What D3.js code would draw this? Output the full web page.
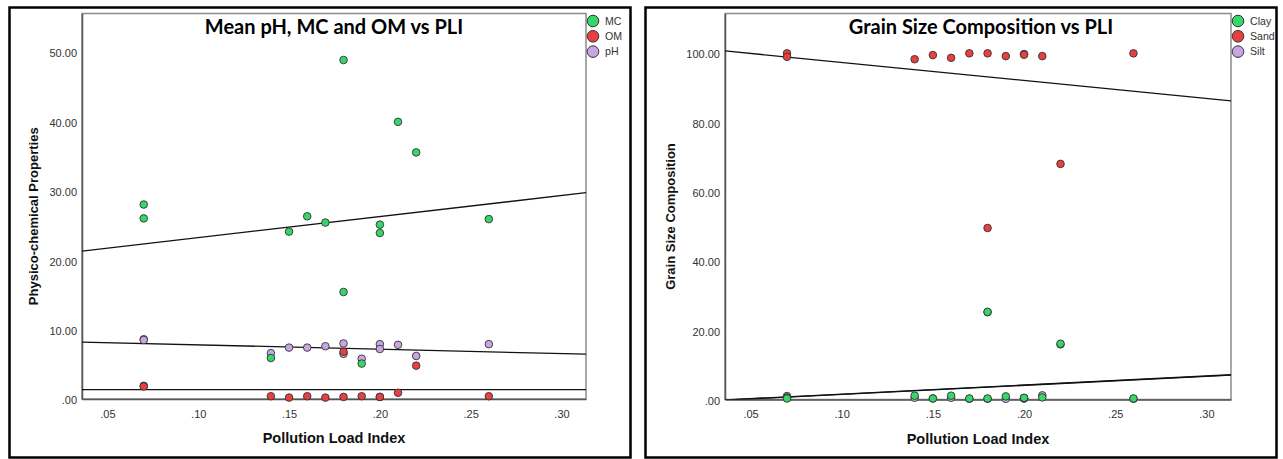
<!DOCTYPE html>
<html><head><meta charset="utf-8">
<script src="https://cdn.jsdelivr.net/npm/d3@7"></script>
<style>body{margin:0;background:#fff;} svg{display:block;}</style>
</head><body>
<svg id="c" width="1283" height="459"></svg>
<script>
// ---------- DATA ----------
const xTicks = [0.05, 0.10, 0.15, 0.20, 0.25, 0.30];
const xTickLabels = [".05", ".10", ".15", ".20", ".25", ".30"];
const leftYTicks = [0, 10, 20, 30, 40, 50];
const leftYTickLabels = [".00", "10.00", "20.00", "30.00", "40.00", "50.00"];
const rightYTicks = [0, 20, 40, 60, 80, 100];
const rightYTickLabels = [".00", "20.00", "40.00", "60.00", "80.00", "100.00"];

// PLI for each sample
const pli = [0.07, 0.07, 0.14, 0.15, 0.16, 0.17, 0.18, 0.18, 0.19, 0.20, 0.20, 0.21, 0.22, 0.26];
// Left chart series
const mcValues = [28.0, 26.0, 5.9, 24.1, 26.3, 25.4, 48.8, 15.4, 5.1, 25.1, 23.9, 39.9, 35.5, 25.9];
const omValues = [1.9, 1.8, 0.4, 0.2, 0.4, 0.2, 6.8, 0.3, 0.4, 0.3, 0.3, 0.9, 4.8, 0.4];
const phValues = [8.6, 8.5, 6.6, 7.4, 7.4, 7.6, 8.0, 6.5, 5.8, 7.9, 7.2, 7.8, 6.2, 7.9];
// Right chart series
const clayValues = [0.5, 0.3, 1.1, 0.3, 1.1, 0.3, 0.3, 25.3, 0.9, 0.4, 0.5, 0.6, 16.1, 0.3];
const sandValues = [99.9, 98.9, 98.2, 99.4, 98.6, 99.9, 99.9, 49.5, 99.1, 99.7, 99.5, 99.1, 68.0, 99.9];
const siltValues = [1.0, 0.6, 0.5, 0.3, 0.5, 0.2, 0.2, 25.2, 0.2, 0.3, 0.3, 1.2, 15.9, 0.2];

// Fit lines (value at x = 0.036 and x = 0.3135)
const fitX = [0.036, 0.3135];
const mcFit = [21.3, 29.7];
const phFit = [8.2, 6.45];
const omFit = [1.35, 1.35];
const sandFit = [100.6, 86.2];
const clayFit = [-0.13, 7.15];
const siltFit = [-0.2, 7.05];

const leftLegend = ["MC", "OM", "pH"];
const rightLegend = ["Clay", "Sand", "Silt"];
const colors = ["#35d66a", "#e8403f", "#c7a6e2"];

// ---------- DRAW ----------
const svg = d3.select("#c");

function panel(cfg) {
  const g = svg.append("g");
  // outer frame
  g.append("rect").attr("x", cfg.frame[0]).attr("y", cfg.frame[1])
    .attr("width", cfg.frame[2]).attr("height", cfg.frame[3])
    .attr("fill", "#fff").attr("stroke", "#000").attr("stroke-width", 2.5);

  const x = d3.scaleLinear().domain([0.036, 0.3135]).range([cfg.left, cfg.right]);
  const y = d3.scaleLinear().domain(cfg.yDomain).range([cfg.bottom, cfg.top]);

  // plot area border
  g.append("rect").attr("x", cfg.left).attr("y", cfg.top)
    .attr("width", cfg.right - cfg.left).attr("height", cfg.bottom - cfg.top)
    .attr("fill", "#fff").attr("stroke", "#8c8c8c").attr("stroke-width", 1.5);

  const clipId = "clip" + cfg.id;
  g.append("clipPath").attr("id", clipId).append("rect")
    .attr("x", cfg.left).attr("y", cfg.top)
    .attr("width", cfg.right - cfg.left).attr("height", cfg.bottom - cfg.top);

  // axes
  const xAxis = d3.axisBottom(x).tickValues(xTicks).tickSize(0).tickPadding(11)
    .tickFormat((d, i) => xTickLabels[i]);
  const gx = g.append("g").attr("transform", `translate(0,${cfg.bottom})`).call(xAxis);
  gx.select(".domain").attr("stroke", "#555").attr("stroke-width", 1.5);
  gx.selectAll("text").attr("font-family", "Liberation Sans, Arial, sans-serif")
    .attr("font-size", 11).attr("fill", "#333");

  const yAxis = d3.axisLeft(y).tickValues(cfg.yTicks).tickSize(0).tickPadding(5)
    .tickFormat((d, i) => cfg.yTickLabels[i]);
  const gy = g.append("g").attr("transform", `translate(${cfg.left},0)`).call(yAxis);
  gy.select(".domain").attr("stroke", "#555").attr("stroke-width", 1.5);
  gy.selectAll("text").attr("font-family", "Liberation Sans, Arial, sans-serif")
    .attr("font-size", 11).attr("fill", "#333").attr("dy", "0.45em");

  // fit lines
  const line = d3.line().x(d => x(d[0])).y(d => y(d[1]));
  const lg = g.append("g").attr("clip-path", `url(#${clipId})`);
  cfg.fits.forEach(f => {
    lg.append("path").attr("d", line(fitX.map((xv, i) => [xv, f[i]])))
      .attr("fill", "none").attr("stroke", "#111").attr("stroke-width", 1.3);
  });

  // points (drawn in given order; colour index carried along)
  const pg = g.append("g");
  cfg.drawOrder.forEach(si => {
    pg.selectAll(null).data(cfg.series[si]).enter().append("circle")
      .attr("cx", (d, i) => x(pli[i])).attr("cy", d => y(d))
      .attr("r", 3.8).attr("fill", colors[si])
      .attr("stroke", "#333").attr("stroke-width", 0.9);
  });

  // title
  g.append("text").attr("x", (cfg.left + cfg.right) / 2 + cfg.titleDx).attr("y", cfg.top + 20)
    .attr("text-anchor", "middle").attr("font-family", "Lato, 'Open Sans', sans-serif")
    .attr("font-weight", "bold").attr("font-size", 20).attr("fill", "#000")
    .text(cfg.title);

  // axis titles
  g.append("text").attr("x", (cfg.left + cfg.right) / 2).attr("y", cfg.bottom + 44)
    .attr("text-anchor", "middle").attr("font-family", "Liberation Sans, Arial, sans-serif")
    .attr("font-weight", "bold").attr("font-size", 14.5).attr("fill", "#111")
    .text("Pollution Load Index");
  g.append("text")
    .attr("transform", `translate(${cfg.yTitleX},${(cfg.top + cfg.bottom) / 2 + 10}) rotate(-90)`)
    .attr("text-anchor", "middle").attr("font-family", "Liberation Sans, Arial, sans-serif")
    .attr("font-weight", "bold").attr("font-size", 13).attr("fill", "#111")
    .text(cfg.yTitle);

  // legend
  const leg = g.append("g").attr("transform", `translate(${cfg.right + 7},${cfg.top + 7.5})`);
  cfg.legend.forEach((name, i) => {
    leg.append("circle").attr("cx", 0).attr("cy", i * 15.3).attr("r", 5.8)
      .attr("fill", colors[i]).attr("stroke", "#333").attr("stroke-width", 1);
    leg.append("text").attr("x", 12).attr("y", i * 15.3).attr("dy", "0.35em")
      .attr("font-family", "Liberation Sans, Arial, sans-serif").attr("font-size", 10.6)
      .attr("fill", "#333").text(name);
  });
}

panel({
  id: "L", frame: [9.5, 7.5, 621, 450], left: 82, right: 586, top: 13.5, bottom: 399,
  yDomain: [0, 55.5], yTicks: leftYTicks, yTickLabels: leftYTickLabels,
  series: [mcValues, omValues, phValues], drawOrder: [2, 1, 0], fits: [mcFit, phFit, omFit],
  title: "Mean pH, MC and OM vs PLI", titleDx: 0, yTitle: "Physico-chemical Properties", yTitleX: 38,
  legend: leftLegend
});
panel({
  id: "R", frame: [645.5, 7.5, 631, 450], left: 725, right: 1231, top: 13.5, bottom: 399.5,
  yDomain: [0, 111.4], yTicks: rightYTicks, yTickLabels: rightYTickLabels,
  series: [clayValues, sandValues, siltValues], drawOrder: [2, 1, 0],
  fits: [sandFit, clayFit, siltFit],
  title: "Grain Size Composition vs PLI", titleDx: 3, yTitle: "Grain Size Composition", yTitleX: 675,
  legend: rightLegend
});
</script>
</body></html>
